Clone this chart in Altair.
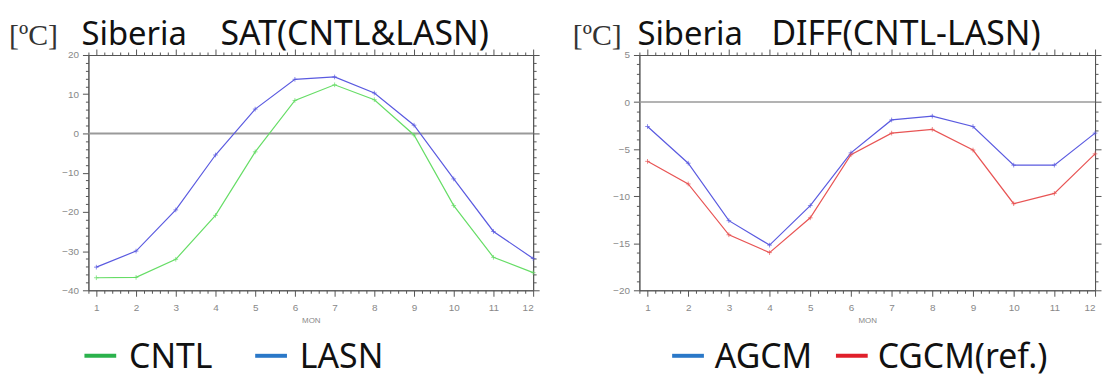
import altair as alt
import pandas as pd

months = list(range(1, 13))

# Left panel: SAT (deg C)
cntl = [-36.8, -36.7, -32.1, -20.9, -4.7, 8.4, 12.4, 8.6, -0.4, -18.4, -31.6, -35.5]
lasn = [-34.1, -30.0, -19.5, -5.5, 6.2, 13.8, 14.4, 10.3, 2.1, -11.6, -25.0, -31.9]

# Right panel: DIFF (deg C)
agcm = [-2.6, -6.5, -12.6, -15.2, -11.0, -5.4, -1.9, -1.5, -2.6, -6.7, -6.7, -3.3]
cgcm = [-6.3, -8.7, -14.1, -16.0, -12.3, -5.6, -3.3, -2.9, -5.1, -10.8, -9.7, -5.5]

left_series = ["CNTL", "LASN"]
left_line_colors = ["#66dd66", "#5a5ae0"]
left_legend_colors = ["#2bb24c", "#2a78c8"]
right_series = ["AGCM", "CGCM(ref.)"]
right_line_colors = ["#5a5ae0", "#e85454"]
right_legend_colors = ["#2a78c8", "#e0202a"]

unit_text = "[ºC]"
region_text = "Siberia"
left_title = "SAT(CNTL&LASN)"
right_title = "DIFF(CNTL-LASN)"
x_title = "MON"
zero_line = [0]

W_L, W_R, H = 448, 459, 237
PLUS = "M-1,0L1,0M0,-1L0,1"
AX = "#555555"
LAB = "#888888"


def long_df(names, a, b):
    rows = []
    for n, vals in zip(names, [a, b]):
        for m, v in zip(months, vals):
            rows.append({"month": m, "value": v, "series": n})
    return pd.DataFrame(rows)


def panel(df, names, line_colors, legend_colors, ydom, ystep, ymajor, width, title, legend_pos, zero_w):
    xvals = [round(0.8 + 0.2 * k, 1) for k in range(57)]
    yvals = [ydom[0] + ystep * k for k in range(int((ydom[1] - ydom[0]) / ystep) + 1)]
    xmaj = "abs(datum.value - round(datum.value)) < 0.01"
    ymaj = f"abs(datum.value % {ymajor}) < 0.01"
    xscale = alt.Scale(domain=[0.8, 12], nice=False, zero=False)
    yscale = alt.Scale(domain=ydom, nice=False, zero=False)
    common = dict(domainColor=AX, tickColor=AX, tickWidth=1, grid=False,
                  labelColor=LAB, labelFont="Liberation Sans", labelFontSize=10)
    x_bottom = alt.Axis(values=xvals, orient="bottom", title=x_title, titleFont="Liberation Sans",
                        titleFontSize=8, titleColor=LAB, titleFontWeight="normal", titlePadding=4,
                        labelExpr=f"{xmaj} ? format(round(datum.value), 'd') : ''",
                        tickSize={"condition": {"test": xmaj, "value": 6}, "value": 3},
                        labelPadding=6, **common)
    y_left = alt.Axis(values=yvals, orient="left", title=None,
                      labelExpr=f"{ymaj} ? datum.label : ''",
                      tickSize={"condition": {"test": ymaj, "value": 6}, "value": 3},
                      labelPadding=4, **common)
    x_top = alt.Axis(values=xvals, orient="top", title=None, labels=False,
                     tickSize={"condition": {"test": xmaj, "value": 6}, "value": 3}, **common)
    y_right = alt.Axis(values=yvals, orient="right", title=None, labels=False,
                       tickSize={"condition": {"test": ymaj, "value": 6}, "value": 3}, **common)
    color = alt.Color("series:N", scale=alt.Scale(domain=names, range=line_colors), legend=None)

    base = alt.Chart(df)
    zero = alt.Chart(pd.DataFrame({"v": zero_line})).mark_rule(color="#9a9a9a", strokeWidth=zero_w).encode(
        y=alt.Y("v:Q", scale=yscale, axis=None))
    lines = base.mark_line(strokeWidth=1.2).encode(
        x=alt.X("month:Q", scale=xscale, axis=x_bottom),
        y=alt.Y("value:Q", scale=yscale, axis=y_left),
        color=color)
    pts = base.mark_point(shape=PLUS, size=22, filled=False, strokeWidth=1).encode(
        x=alt.X("month:Q", axis=None), y=alt.Y("value:Q", axis=None), color=color)
    frame = base.mark_line(opacity=0).encode(
        x=alt.X("month:Q", axis=x_top), y=alt.Y("value:Q", axis=y_right))

    texts = []
    texts.append(alt.Chart().mark_text(font="Liberation Serif", fontSize=30, align="left",
                                        baseline="alphabetic", color="#333333").encode(
        x=alt.value(legend_pos["unit_x"]), y=alt.value(-10), text=alt.value(unit_text)))
    texts.append(alt.Chart().mark_text(font="Noto Sans", fontSize=33, align="left",
                                        baseline="alphabetic", color="#111111").encode(
        x=alt.value(legend_pos["region_x"]), y=alt.value(-10), text=alt.value(region_text)))
    texts.append(alt.Chart().mark_text(font="Noto Sans", fontSize=34, align="left",
                                        baseline="alphabetic", color="#111111").encode(
        x=alt.value(133), y=alt.value(-10), text=alt.value(title)))
    for i, n in enumerate(names):
        x0, x1, tx = legend_pos["items"][i]
        texts.append(alt.Chart().mark_rule(strokeWidth=4, color=legend_colors[i]).encode(
            x=alt.value(x0), x2=alt.value(x1), y=alt.value(303)))
        texts.append(alt.Chart().mark_text(font="Noto Sans", fontSize=34, align="left",
                                            baseline="alphabetic", color="#111111").encode(
            x=alt.value(tx), y=alt.value(315), text=alt.value(n)))

    return alt.layer(zero, lines, pts, frame, *texts).resolve_axis(
        x="independent", y="independent").properties(width=width, height=H)


left = panel(long_df(left_series, cntl, lasn), left_series, left_line_colors, left_legend_colors,
             [-40, 20], 2, 10, W_L, left_title,
             {"unit_x": -80, "region_x": -7, "items": [(-4, 28, 41), (168, 200, 213)]}, 2)
right = panel(long_df(right_series, agcm, cgcm), right_series, right_line_colors, right_legend_colors,
              [-20, 5], 1, 5, W_R, right_title,
              {"unit_x": -67, "region_x": -2, "items": [(33, 65, 76), (198, 230, 240)]}, 1.5)

chart = alt.hconcat(left, right, spacing=107, bounds="flush").resolve_scale(
    color="independent").configure_view(
    stroke=AX, strokeWidth=1).properties(padding={"left": 0, "top": 8, "right": 0, "bottom": 0},
                                         background="white")

chart.save("out.html", embed_options={"renderer": "svg", "actions": False})
